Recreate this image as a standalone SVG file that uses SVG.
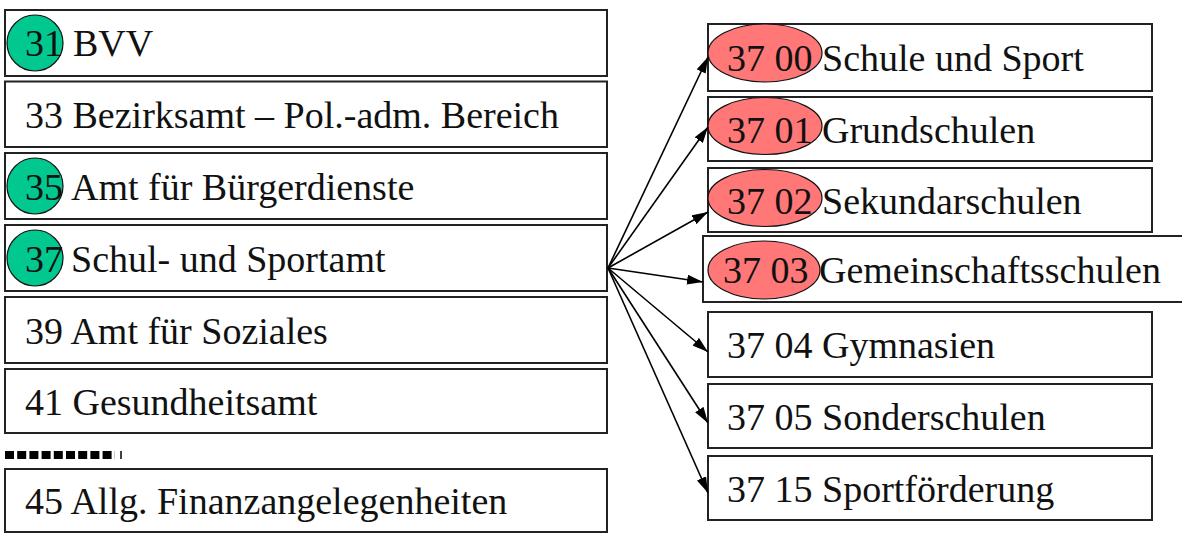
<svg xmlns="http://www.w3.org/2000/svg" width="1182" height="534" viewBox="0 0 1182 534">
<defs>
<style>
.box{fill:#fff;stroke:#222;stroke-width:2}
.t{font-family:'Times New Roman','Liberation Serif','DejaVu Serif',serif;font-size:38px;fill:#111}
.g{fill:#00c88f;stroke:#111;stroke-width:1.2}
.r{fill:#ff7777;stroke:#111;stroke-width:1.2}
.c{stroke:#000;stroke-width:1.6;fill:none;marker-end:url(#ah)}
</style>
<marker id="ah" viewBox="0 0 16 10" refX="16" refY="5" markerWidth="16" markerHeight="10" markerUnits="userSpaceOnUse" orient="auto">
<path d="M0,0 L16,5 L0,10 Z" fill="#000"/>
</marker>
</defs>

<g id="n31"><rect class="box" x="5" y="10" width="602" height="66"/><circle class="g" cx="35" cy="43" r="28"/><text class="t" x="25" y="56">31</text><text class="t" x="73" y="56">BVV</text></g>
<g id="n33"><rect class="box" x="5" y="81.5" width="602" height="65.5"/><text class="t" x="25" y="128">33 Bezirksamt – Pol.-adm. Bereich</text></g>
<g id="n35"><rect class="box" x="5" y="153" width="602" height="66"/><circle class="g" cx="35" cy="186" r="28"/><text class="t" x="25" y="199.5">35</text><text class="t" x="71" y="199.5">Amt für Bürgerdienste</text></g>
<g id="n37"><rect class="box" x="5" y="225" width="602" height="66"/><circle class="g" cx="35" cy="258" r="28"/><text class="t" x="25" y="271.5">37</text><text class="t" x="71" y="271.5">Schul- und Sportamt</text></g>
<g id="n39"><rect class="box" x="5" y="297" width="602" height="66"/><text class="t" x="25" y="343.5">39 Amt für Soziales</text></g>
<g id="n41"><rect class="box" x="5" y="369" width="602" height="64"/><text class="t" x="25" y="414.5">41 Gesundheitsamt</text></g>
<g id="sep"><line x1="5" y1="455" x2="115" y2="455" stroke="#000" stroke-width="8" stroke-dasharray="9 3.2"/><line x1="121" y1="451" x2="121" y2="459" stroke="#000" stroke-width="1.5"/></g>
<g id="n45"><rect class="box" x="5" y="469" width="602" height="63"/><text class="t" x="25" y="514">45 Allg. Finanzangelegenheiten</text></g>

<g id="r3700"><rect class="box" x="708" y="24" width="444" height="67"/><ellipse class="r" cx="765" cy="53" rx="57" ry="29"/><text class="t" x="727" y="71">37 00</text><text class="t" x="822" y="71">Schule und Sport</text></g>
<g id="r3701"><rect class="box" x="708" y="97" width="444" height="64"/><ellipse class="r" cx="765" cy="126" rx="57" ry="28.5"/><text class="t" x="727" y="142.5">37 01</text><text class="t" x="822" y="142.5">Grundschulen</text></g>
<g id="r3702"><rect class="box" x="708" y="168" width="444" height="64"/><ellipse class="r" cx="765" cy="198" rx="57" ry="28.5"/><text class="t" x="727" y="213.5">37 02</text><text class="t" x="822" y="213.5">Sekundarschulen</text></g>
<g id="r3703"><rect class="box" x="703" y="236" width="500" height="66"/><ellipse class="r" cx="764" cy="270" rx="56" ry="29"/><text class="t" x="723" y="283">37 03</text><text class="t" x="819" y="283">Gemeinschaftsschulen</text></g>
<g id="r3704"><rect class="box" x="708" y="312" width="444" height="65"/><text class="t" x="727" y="358">37 04 Gymnasien</text></g>
<g id="r3705"><rect class="box" x="708" y="384" width="444" height="64"/><text class="t" x="727" y="429.5">37 05 Sonderschulen</text></g>
<g id="r3715"><rect class="box" x="708" y="456" width="444" height="64"/><text class="t" x="727" y="501.5">37 15 Sportförderung</text></g>

<g id="connectors">
<line class="c" x1="608" y1="268" x2="708" y2="57"/>
<line class="c" x1="608" y1="268" x2="708" y2="127"/>
<line class="c" x1="608" y1="268" x2="708" y2="212"/>
<line class="c" x1="608" y1="268" x2="703" y2="282"/>
<line class="c" x1="608" y1="268" x2="708" y2="352"/>
<line class="c" x1="608" y1="268" x2="708" y2="423"/>
<line class="c" x1="608" y1="268" x2="708" y2="493"/>
</g>
</svg>
